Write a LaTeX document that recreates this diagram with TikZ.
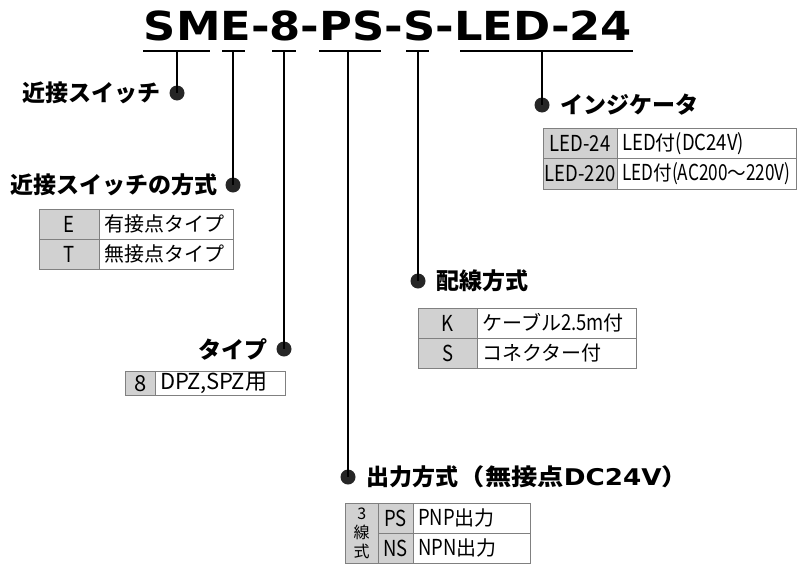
\documentclass[tikz,border=0pt]{standalone}
\usepackage{fontspec}
\newfontfamily\jpfont{Noto Sans CJK JP}
\newfontfamily\latfont{Noto Sans CJK JP}[FakeStretch=0.84]
\newfontfamily\codefont{DejaVu Sans}
\newcommand\lat[1]{{\latfont\fontsize{22}{24}\selectfont #1}}
\newcommand\hlat[1]{{\codefont\bfseries\fontsize{23}{26}\selectfont #1}}
\usetikzlibrary{positioning}
\definecolor{tblline}{gray}{0.5}
\definecolor{keyfill}{gray}{0.82}
\tikzset{
  bullet/.style={circle, fill=black!85, inner sep=0pt, minimum size=15pt},
  headlbl/.style={font=\jpfont\bfseries\fontsize{23}{26}\selectfont, inner sep=0pt},
  stem/.style={line width=1.6pt},
  keycell/.style n args={2}{draw=tblline, fill=keyfill, anchor=north west, inner sep=0pt,
    minimum width=#1, minimum height=#2, font=\latfont\fontsize{22}{24}\selectfont},
  valcell/.style n args={2}{draw=tblline, fill=white, anchor=north west, inner xsep=5pt,
    inner ysep=0pt, text width=#1, minimum height=#2, align=left,
    font=\jpfont\fontsize{20}{22}\selectfont},
}
\begin{document}
\begin{tikzpicture}[x=1pt, y=-1pt]
    \useasboundingbox (0,0) rectangle (798,565);

    % Model code
    \node[anchor=base, inner sep=0pt, font=\codefont\bfseries\fontsize{40}{48}\selectfont]
        (code) at (388,40) {\scalebox{1.12}[1]{SME-8-PS-S-LED-24}};

    % Underlines and stem tops
    \foreach \a/\b/\s/\n in {143/210/177/1, 222/245/233/2, 272/296/284/3,
                             319/381/348/4, 406/429/418/5, 460/633/542/6} {
        \draw[line width=2pt] (\a,51) -- (\b,51);
        \coordinate (u\n) at (\s,51);
    }

    % Bullets
    \node[bullet] (d1) at (177,93) {};
    \node[bullet] (d2) at (233,185) {};
    \node[bullet] (d3) at (284,349) {};
    \node[bullet] (d4) at (348,477) {};
    \node[bullet] (d5) at (418,281) {};
    \node[bullet] (d6) at (542,105) {};
    \foreach \n in {1,...,6} {
        \draw[stem] (u\n) -- (d\n.center);
    }

    % Headings
    \node[headlbl, left=9pt of d1] (h1) {近接スイッチ};
    \node[headlbl, left=8pt of d2] (h2) {近接スイッチの方式};
    \node[headlbl, left=9pt of d3] (h3) {タイプ};
    \node[headlbl, right=11pt of d4] (h4) {出力方式\scalebox{1.14}[1]{（無接点\hlat{DC24V}）}};
    \node[headlbl, right=11pt of d5] (h5) {配線方式};
    \node[headlbl, right=11pt of d6] (h6) {インジケータ};

    % Table: switch type
    \node[keycell={60}{30}] (te) at (39,209) {E};
    \node[valcell={124}{30}] (tev) at (99,209) {有接点タイプ};
    \node[keycell={60}{30}] (tt) at (39,239) {T};
    \node[valcell={124}{30}] (ttv) at (99,239) {無接点タイプ};

    % Table: type
    \node[keycell={30}{24}, font=\jpfont\fontsize{22}{24}\selectfont] (t8) at (125,371) {8};
    \node[valcell={120}{24}, font=\jpfont\fontsize{22}{24}\selectfont] (t8v) at (155,371) {DPZ,SPZ用};

    % Table: wiring
    \node[keycell={59}{30}] (tk) at (418,308) {K};
    \node[valcell={149}{30}] (tkv) at (477,308) {ケーブル\lat{2.5m}付};
    \node[keycell={59}{30}] (ts) at (418,338) {S};
    \node[valcell={149}{30}] (tsv) at (477,338) {コネクター付};

    % Table: output
    \node[keycell={33}{60}, align=center, font=\jpfont\fontsize{16}{19}\selectfont]
        (t3) at (345,503) {3\\線\\式};
    \node[keycell={35}{30}] (tps) at (378,503) {PS};
    \node[valcell={107}{30}] (tpsv) at (413,503) {\lat{PNP}出力};
    \node[keycell={35}{30}] (tns) at (378,533) {NS};
    \node[valcell={107}{30}] (tnsv) at (413,533) {\lat{NPN}出力};

    % Table: indicator
    \node[keycell={74}{30}] (tl1) at (543,128) {LED-24};
    \node[valcell={169}{30}] (tl1v) at (617,128) {\lat{LED}付\lat{(DC24V)}};
    \node[keycell={74}{31}] (tl2) at (543,158) {LED-220};
    \node[valcell={169}{31}] (tl2v) at (617,158)
        {\scalebox{0.93}[1]{\lat{LED}付\lat{(AC200}～\lat{220V)}}};
\end{tikzpicture}
\end{document}
